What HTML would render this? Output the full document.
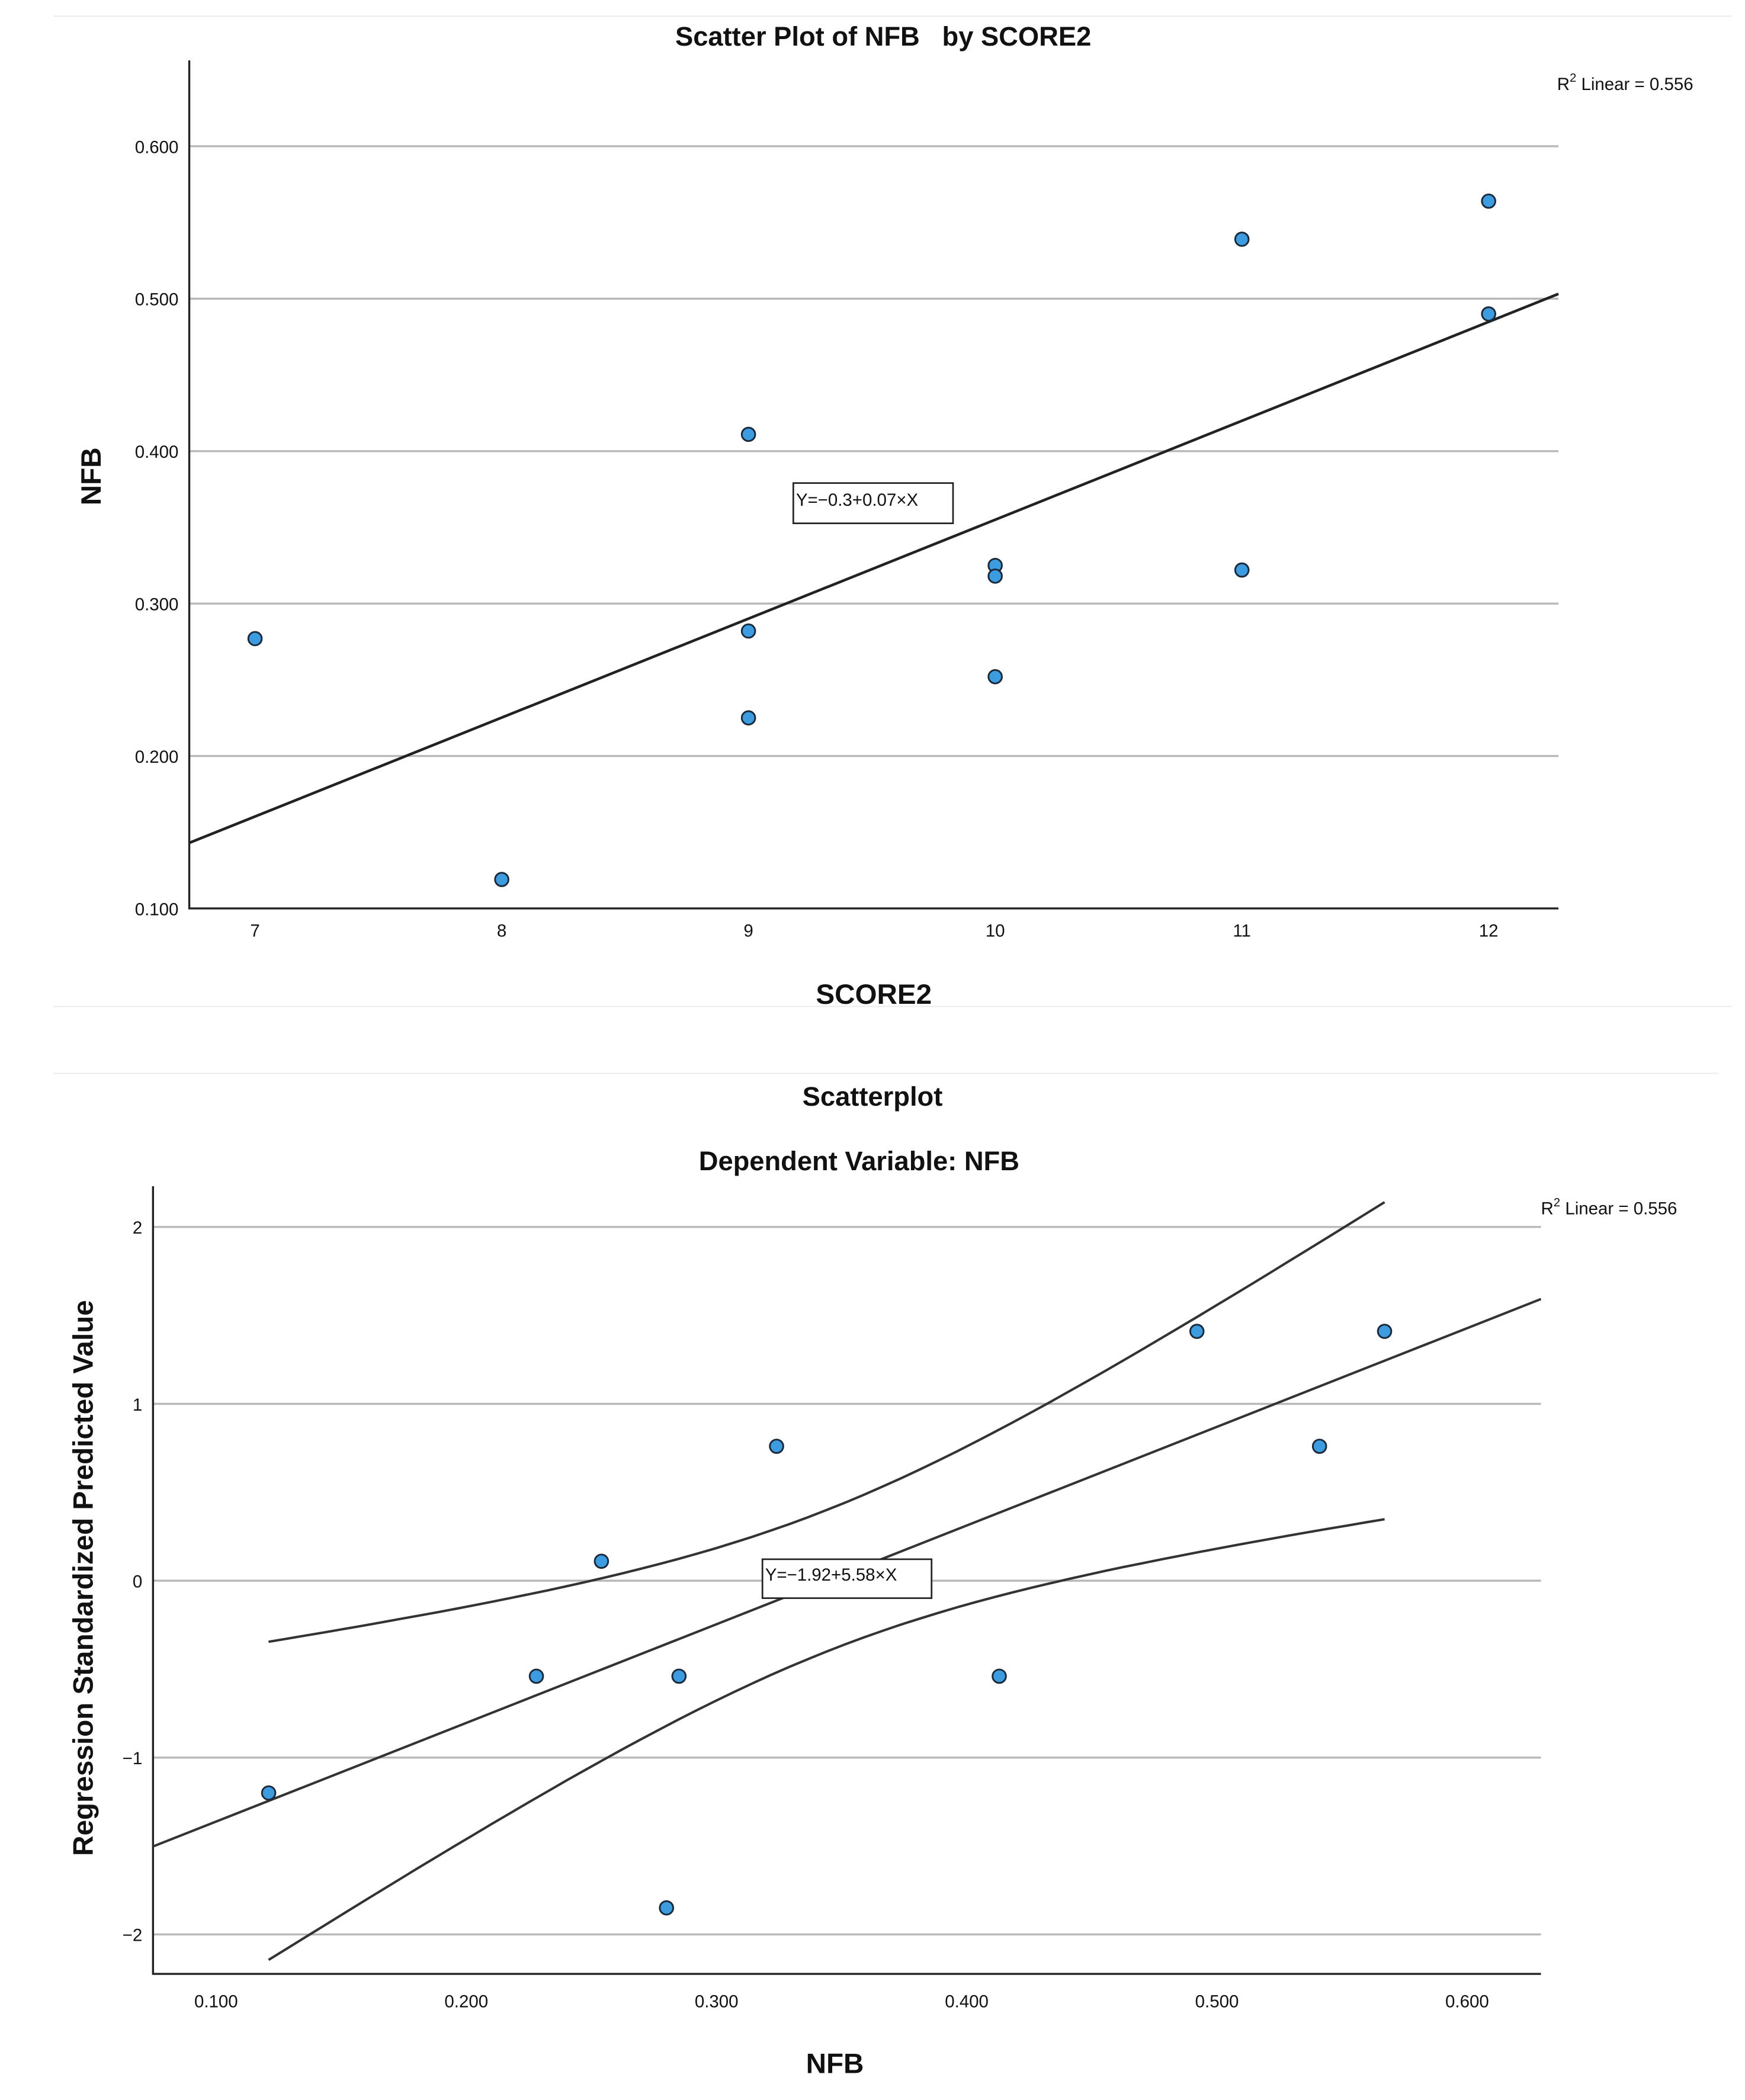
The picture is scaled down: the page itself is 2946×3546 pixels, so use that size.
<!DOCTYPE html>
<html><head><meta charset="utf-8"><style>
html,body{margin:0;padding:0;background:#fff}
svg{display:block}
text{font-family:"Liberation Sans",sans-serif;fill:#111}
</style></head><body>
<svg id="s" width="2946" height="3546" viewBox="0 0 1300 1565" preserveAspectRatio="none">
<line x1="40" y1="12" x2="1290" y2="12" stroke="#eee"/>
<line x1="40" y1="750" x2="1290" y2="750" stroke="#eee"/>
<line x1="40" y1="800" x2="1280" y2="800" stroke="#eee"/>
<g id="c1"></g>
<g id="c2"></g>
</svg>
<script>
// Chart 1 data
const c1X=[7,8,9,9,9,10,10,10,11,11,12,12];
const c1Y=[0.277,0.119,0.411,0.282,0.225,0.325,0.318,0.252,0.539,0.322,0.564,0.490];
const c1YTicks=[0.1,0.2,0.3,0.4,0.5,0.6];
const c1XTicks=[7,8,9,10,11,12];
const c1Fit=[-0.294,0.0649];
// Chart 2 data
const c2X=[0.121,0.228,0.254,0.285,0.280,0.324,0.413,0.492,0.541,0.567];
const c2Y=[-1.2,-0.54,0.11,-0.54,-1.85,0.76,-0.54,1.41,0.76,1.41];
const c2YTicks=[-2,-1,0,1,2];
const c2XTicks=[0.1,0.2,0.3,0.4,0.5,0.6];
const c2Fit=[-1.92,5.58];
const c2CI=[0.3445,0.16,13];

const NS="http://www.w3.org/2000/svg";
function mk(p,t,a,txt){const e=document.createElementNS(NS,t);for(const k in a)e.setAttribute(k,a[k]);if(txt!==undefined)e.textContent=txt;p.appendChild(e);return e;}

// ---- chart 1
(function(){
const g=document.getElementById('c1');
const L=141,R=1161,B=677,T=45;
const sx=v=>190+(v-7)*183.8, sy=v=>677-(v-0.1)*1136;
let e=mk(g,'text',{x:658,y:34,'text-anchor':'middle','font-size':20,'font-weight':'bold'},'Scatter Plot of NFB\u00a0\u00a0\u00a0by SCORE2');

e=mk(g,'text',{x:1160,y:67,'font-size':13},'');
e.innerHTML='R<tspan dy="-6" font-size="9">2</tspan><tspan dy="6"> Linear = 0.556</tspan>';

c1YTicks.forEach(v=>{
 const y=sy(v);
 if(v>0.1){const l=mk(g,'line',{x1:L,y1:y,x2:R,y2:y,stroke:'#b8b8b8','stroke-width':1.5});
 }
 const t=mk(g,'text',{x:133,y:y+5,'text-anchor':'end','font-size':13},v.toFixed(3));
 
});
c1XTicks.forEach(v=>{
 const t=mk(g,'text',{x:sx(v),y:698,'text-anchor':'middle','font-size':13},String(v));
 
});
e=mk(g,'path',{d:`M${L} ${T}V${B}H${R}`,fill:'none',stroke:'#222','stroke-width':1.5});

const x0=7-(190-L)/183.8,x1=7+(R-190)/183.8;
e=mk(g,'line',{x1:L,y1:sy(c1Fit[0]+c1Fit[1]*x0),x2:R,y2:sy(c1Fit[0]+c1Fit[1]*x1),stroke:'#222','stroke-width':2});

e=mk(g,'rect',{x:591,y:360,width:119,height:30,fill:'#fff',stroke:'#222','stroke-width':1.2});

e=mk(g,'text',{x:593,y:377,'font-size':13},'Y=−0.3+0.07×X');

c1X.forEach((x,i)=>{
 const c=mk(g,'circle',{cx:sx(x),cy:sy(c1Y[i]),r:5,fill:'#3d9be0',stroke:'#1a2a3a','stroke-width':1.3});
 
});
e=mk(g,'text',{x:75,y:355,'text-anchor':'middle','font-size':21,'font-weight':'bold',transform:'rotate(-90 75 355)'},'NFB');

e=mk(g,'text',{x:651,y:748,'text-anchor':'middle','font-size':21,'font-weight':'bold'},'SCORE2');

})();

// ---- chart 2
(function(){
const g=document.getElementById('c2');
const L=114,R=1148,B=1471,T=884;
const sx=v=>161+(v-0.1)*1864, sy=v=>1178-v*131.8;
let e=mk(g,'text',{x:650,y:824,'text-anchor':'middle','font-size':20,'font-weight':'bold'},'Scatterplot');

e=mk(g,'text',{x:640,y:872,'text-anchor':'middle','font-size':20,'font-weight':'bold'},'Dependent Variable: NFB');

e=mk(g,'text',{x:1148,y:905,'font-size':13},'');
e.innerHTML='R<tspan dy="-6" font-size="9">2</tspan><tspan dy="6"> Linear = 0.556</tspan>';

c2YTicks.forEach(v=>{
 const y=sy(v);
 const l=mk(g,'line',{x1:L,y1:y,x2:R,y2:y,stroke:'#b8b8b8','stroke-width':1.5});
 
 const t=mk(g,'text',{x:106,y:y+5,'text-anchor':'end','font-size':13},v<0?'−'+(-v):String(v));
 
});
c2XTicks.forEach(v=>{
 const t=mk(g,'text',{x:sx(v),y:1496,'text-anchor':'middle','font-size':13},v.toFixed(3));
 
});
e=mk(g,'path',{d:`M${L} ${T}V${B}H${R}`,fill:'none',stroke:'#222','stroke-width':1.5});

const f=x=>c2Fit[0]+c2Fit[1]*x;
const x0=0.1-(161-L)/1864,x1=0.1+(R-161)/1864;
e=mk(g,'line',{x1:L,y1:sy(f(x0)),x2:R,y2:sy(f(x1)),stroke:'#333','stroke-width':1.8});

const xmin=Math.min(...c2X),xmax=Math.max(...c2X);
[1,-1].forEach(s=>{
 let d='';
 for(let k=0;k<=60;k++){const x=xmin+(xmax-xmin)*k/60;
  const h=Math.sqrt(c2CI[1]+c2CI[2]*(x-c2CI[0])**2);
  d+=(k?'L':'M')+sx(x).toFixed(1)+' '+sy(f(x)+s*h).toFixed(1);}
 const p=mk(g,'path',{d:d,fill:'none',stroke:'#333','stroke-width':1.8});
 
 
});
e=mk(g,'rect',{x:568,y:1162,width:126,height:29,fill:'#fff',stroke:'#222','stroke-width':1.2});

e=mk(g,'text',{x:570,y:1178,'font-size':13},'Y=−1.92+5.58×X');

c2X.forEach((x,i)=>{
 const c=mk(g,'circle',{cx:sx(x),cy:sy(c2Y[i]),r:5,fill:'#3d9be0',stroke:'#1a2a3a','stroke-width':1.3});
 
});
e=mk(g,'text',{x:69,y:1176,'text-anchor':'middle','font-size':21,'font-weight':'bold',transform:'rotate(-90 69 1176)'},'Regression Standardized Predicted Value');

e=mk(g,'text',{x:622,y:1545,'text-anchor':'middle','font-size':21,'font-weight':'bold'},'NFB');

})();
</script>
</body></html>
